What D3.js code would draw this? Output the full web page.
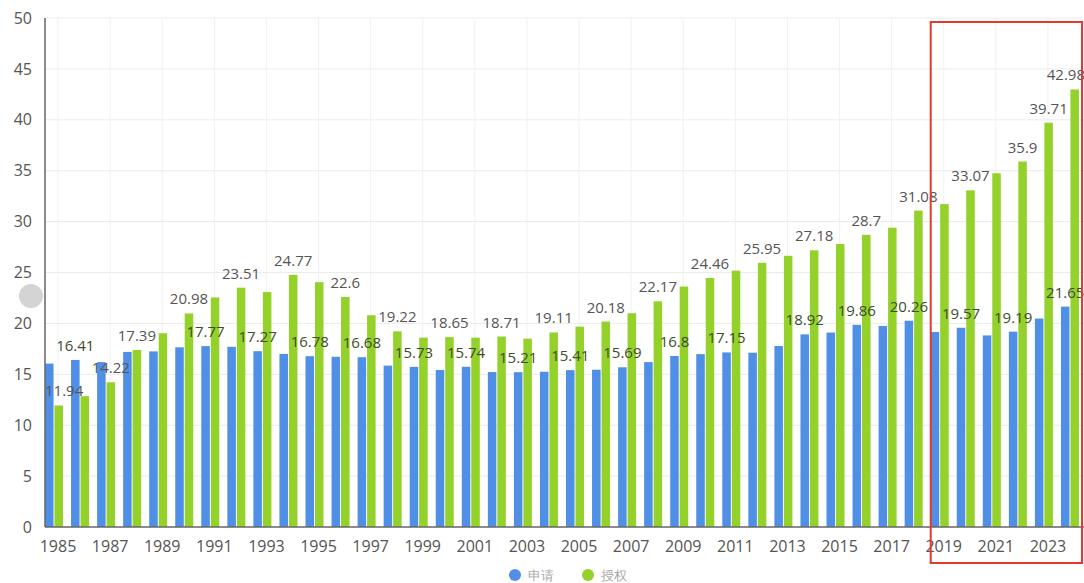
<!DOCTYPE html>
<html>
<head>
<meta charset="utf-8">
<script src="https://cdn.jsdelivr.net/npm/d3@7"></script>
<style>
  body { margin: 0; background: #fff; }
  svg { display: block; font-family: "Open Sans", "Noto Sans", sans-serif; }
</style>
</head>
<body>
<svg width="1084" height="583"></svg>
<script>
var width = 1084;
var height = 583;

var years = [1985, 1986, 1987, 1988, 1989, 1990, 1991, 1992, 1993, 1994,
  1995, 1996, 1997, 1998, 1999, 2000, 2001, 2002, 2003, 2004,
  2005, 2006, 2007, 2008, 2009, 2010, 2011, 2012, 2013, 2014,
  2015, 2016, 2017, 2018, 2019, 2020, 2021, 2022, 2023, 2024];

// 申请
var applyVals = [16.05, 16.41, 16.2, 17.2, 17.25, 17.65, 17.77, 17.7, 17.27, 17.0,
  16.78, 16.72, 16.68, 15.85, 15.73, 15.42, 15.74, 15.22, 15.21, 15.25,
  15.41, 15.45, 15.69, 16.2, 16.8, 16.98, 17.15, 17.12, 17.78, 18.92,
  19.1, 19.86, 19.75, 20.26, 19.16, 19.57, 18.82, 19.19, 20.48, 21.65];

// 授权
var grantVals = [11.94, 12.85, 14.22, 17.39, 19.03, 20.98, 22.55, 23.51, 23.08, 24.77,
  24.05, 22.6, 20.8, 19.22, 18.6, 18.65, 18.6, 18.71, 18.5, 19.11,
  19.68, 20.18, 21.0, 22.17, 23.62, 24.46, 25.18, 25.95, 26.64, 27.18,
  27.8, 28.7, 29.4, 31.08, 31.72, 33.07, 34.75, 35.9, 39.71, 42.98];

// years whose value label is visible
var applyLabelYears = [1986, 1991, 1993, 1995, 1997, 1999, 2001, 2003, 2005, 2007,
  2009, 2011, 2014, 2016, 2018, 2020, 2022, 2024];
var grantLabelYears = [1985, 1987, 1988, 1990, 1992, 1994, 1996, 1998, 2000, 2002,
  2004, 2006, 2008, 2010, 2012, 2014, 2016, 2018, 2020, 2022, 2023, 2024];

var tickYears = [1985, 1987, 1989, 1991, 1993, 1995, 1997, 1999, 2001, 2003,
  2005, 2007, 2009, 2011, 2013, 2015, 2017, 2019, 2021, 2023];
var yTicks = [0, 5, 10, 15, 20, 25, 30, 35, 40, 45, 50];

var seriesNames = ['申请', '授权'];
var colors = ['#4f8fe6', '#95d12b'];

var plotLeft = 45;
var plotRight = 1085;

var x = d3.scaleBand().domain(years).range([41, 1083]).padding(0);
var x1 = d3.scaleBand().domain([0, 1]).range([4, 22]).paddingInner(0.1);
var y = d3.scaleLinear().domain([0, 50]).range([527, 18]);

var svg = d3.select('svg');

//grid
svg.append('g').selectAll('line.h')
  .data(yTicks.slice(1))
  .enter().append('line')
  .attr('x1', plotLeft).attr('x2', width)
  .attr('y1', function(d){ return y(d) }).attr('y2', function(d){ return y(d) })
  .style('stroke', '#ebebeb');

var tickX = function(yr){ return x(yr) + x.bandwidth() / 2 + 4 };

svg.append('g').selectAll('line.v')
  .data(tickYears)
  .enter().append('line')
  .attr('x1', tickX).attr('x2', tickX)
  .attr('y1', y(50)).attr('y2', y(0))
  .style('stroke', '#f1f1f1');

// bars
var rows = years.map(function(yr, i){
  return {year: yr, vals: [applyVals[i], grantVals[i]]};
});

var groups = svg.append('g').selectAll('g')
  .data(rows)
  .enter().append('g')
  .attr('transform', function(d){ return 'translate(' + x(d.year) + ',0)' });

groups.selectAll('rect')
  .data(function(d){ return d.vals.map(function(v, k){ return {k: k, v: v} }) })
  .enter().append('rect')
  .attr('x', function(d){ return x1(d.k) })
  .attr('width', x1.bandwidth())
  .attr('y', function(d){ return y(d.v) })
  .attr('height', function(d){ return y(0) - y(d.v) })
  .style('fill', function(d){ return colors[d.k] });

// axes
svg.append('line')
  .attr('x1', plotLeft).attr('x2', plotLeft)
  .attr('y1', y(50)).attr('y2', y(0))
  .style('stroke', '#666').style('stroke-width', 1.5);
svg.append('line')
  .attr('x1', plotLeft).attr('x2', width)
  .attr('y1', y(0)).attr('y2', y(0))
  .style('stroke', '#666').style('stroke-width', 1.5);

svg.append('g').selectAll('text')
  .data(yTicks)
  .enter().append('text')
  .attr('x', 32)
  .attr('y', function(d){ return y(d) })
  .attr('dy', '0.35em')
  .attr('text-anchor', 'end')
  .style('font-size', '16px')
  .style('fill', '#555')
  .text(function(d){ return d });

svg.append('g').selectAll('text')
  .data(tickYears)
  .enter().append('text')
  .attr('x', tickX)
  .attr('y', 546)
  .attr('dy', '0.35em')
  .attr('text-anchor', 'middle')
  .style('font-size', '16px')
  .style('fill', '#555')
  .text(function(d){ return d });

// value labels
var labels = [];
years.forEach(function(yr, i){
  if (applyLabelYears.indexOf(yr) >= 0) labels.push({year: yr, k: 0, v: applyVals[i]});
  if (grantLabelYears.indexOf(yr) >= 0) labels.push({year: yr, k: 1, v: grantVals[i]});
});

var labelG = svg.append('g');
labels.forEach(function(d){
  var t = labelG.append('text')
    .attr('y', y(d.v) - 9)
    .attr('text-anchor', 'middle')
    .style('font-size', '15px')
    .style('fill', d.k === 0 ? '#3d4d2b' : '#555')
    .text(d.v);
  var w = t.node().getComputedTextLength();
  var cx = x(d.year) + x1(d.k) + x1.bandwidth() / 2;
  //keep label inside the plot
  cx = Math.max(cx, plotLeft + w / 2);
  cx = Math.min(cx, plotRight - w / 2);
  t.attr('x', cx);
});

// legend
var legend = svg.append('g').attr('transform', 'translate(515,575)');
seriesNames.forEach(function(name, k){
  var g = legend.append('g').attr('transform', 'translate(' + (k * 73) + ',0)');
  g.append('circle').attr('r', 6).style('fill', colors[k]);
  g.append('text')
    .attr('x', 13).attr('dy', '0.35em')
    .style('font-size', '13px')
    .style('fill', '#aaa')
    .text(name);
});

// highlight box round the last years
var boxLeft = x(2019) + 4;
svg.append('rect')
  .attr('x', boxLeft).attr('y', 22)
  .attr('width', 1082 - boxLeft).attr('height', 541)
  .style('fill', 'none')
  .style('stroke', '#e8372c')
  .style('stroke-width', 2);

// grey handle on the left
svg.append('circle')
  .attr('cx', 31).attr('cy', 296).attr('r', 12)
  .style('fill', '#d4d4d4');
</script>
</body>
</html>
